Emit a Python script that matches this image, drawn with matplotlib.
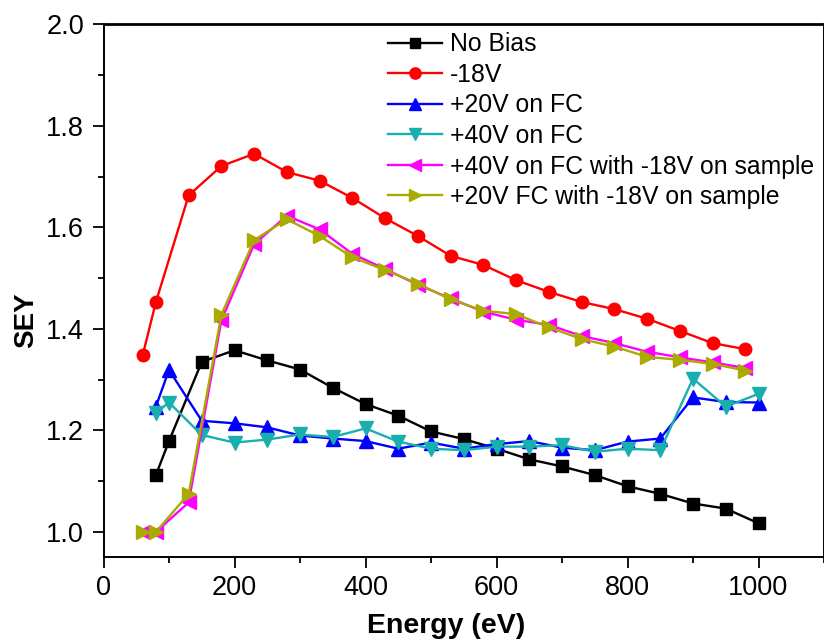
import matplotlib
matplotlib.use("Agg")
import matplotlib.pyplot as plt
from matplotlib.ticker import MultipleLocator

plt.rcParams['font.family'] = ['Liberation Sans', 'DejaVu Sans']

# secondary electron yield vs primary energy, different bias settings
e_nobias = [80, 100, 150, 200, 250, 300, 350, 400, 450, 500,
            550, 600, 650, 700, 750, 800, 850, 900, 950, 1000]
sey_nobias = [1.112, 1.179, 1.335, 1.358, 1.338, 1.320, 1.284, 1.252, 1.229, 1.198,
              1.183, 1.164, 1.143, 1.129, 1.112, 1.090, 1.075, 1.056, 1.046, 1.017]

e_m18 = [60, 80, 130, 180, 230, 280, 330, 380, 430, 480,
         530, 580, 630, 680, 730, 780, 830, 880, 930, 980]
sey_m18 = [1.349, 1.453, 1.663, 1.721, 1.745, 1.709, 1.692, 1.658, 1.618, 1.583,
           1.544, 1.526, 1.496, 1.473, 1.453, 1.439, 1.420, 1.396, 1.372, 1.360]

e_fc = e_nobias
sey_fc20 = [1.247, 1.319, 1.219, 1.214, 1.206, 1.190, 1.184, 1.179, 1.164, 1.176,
            1.164, 1.173, 1.179, 1.166, 1.161, 1.178, 1.184, 1.265, 1.256, 1.255]
sey_fc40 = [1.235, 1.255, 1.191, 1.176, 1.182, 1.192, 1.187, 1.204, 1.178, 1.164,
            1.161, 1.168, 1.168, 1.171, 1.158, 1.164, 1.161, 1.302, 1.247, 1.272]

e_both = e_m18
sey_fc40_m18 = [1.000, 1.000, 1.058, 1.417, 1.567, 1.623, 1.596, 1.548, 1.518, 1.487,
                1.460, 1.434, 1.418, 1.408, 1.386, 1.372, 1.355, 1.344, 1.334, 1.323]
sey_fc20_m18 = [1.000, 1.000, 1.075, 1.428, 1.575, 1.616, 1.583, 1.541, 1.516, 1.489,
                1.458, 1.436, 1.429, 1.403, 1.380, 1.365, 1.345, 1.339, 1.331, 1.318]

fig = plt.figure(figsize=(8.24, 6.41), dpi=100)
ax = fig.add_axes([103.5 / 824, 83.7 / 641, 720.5 / 824, 532.9 / 641])

lw = 1.7
ax.plot(e_nobias, sey_nobias, color='black', marker='s', ms=8, lw=lw, label='No Bias')
ax.plot(e_m18, sey_m18, color='red', marker='o', ms=9, lw=lw, label='-18V')
ax.plot(e_fc, sey_fc20, color='blue', marker='^', ms=10, lw=lw, label='+20V on FC')
ax.plot(e_fc, sey_fc40, color='#1aafaf', marker='v', ms=10, lw=lw, label='+40V on FC')
ax.plot(e_both, sey_fc40_m18, color='magenta', marker='<', ms=10, lw=lw,
        label='+40V on FC with -18V on sample')
ax.plot(e_both, sey_fc20_m18, color='#aaaa00', marker='>', ms=10, lw=lw,
        label='+20V FC with -18V on sample')

ax.set_xlim(0, 1100)
ax.set_ylim(0.95, 2.0)
ax.xaxis.set_major_locator(MultipleLocator(200))
ax.xaxis.set_minor_locator(MultipleLocator(100))
ax.yaxis.set_major_locator(MultipleLocator(0.2))
ax.yaxis.set_minor_locator(MultipleLocator(0.1))
ax.yaxis.set_major_formatter(matplotlib.ticker.FormatStrFormatter('%.1f'))

ax.tick_params(which='both', direction='out', top=False, right=False, width=1.3,
               labelsize=19.5)
ax.tick_params(which='major', length=8)
ax.tick_params(which='minor', length=4)
ax.tick_params(axis='x', pad=4.5)
ax.tick_params(axis='y', pad=6)

for side in ['left', 'bottom', 'right']:
    ax.spines[side].set_linewidth(1.4)
ax.spines['top'].set_linewidth(2.0)

ax.set_xlabel('Energy (eV)', fontsize=20.5, fontweight='bold')
ax.set_ylabel('SEY', fontsize=20, fontweight='bold')
ax.xaxis.set_label_coords(0.476, -0.104)
ax.yaxis.set_label_coords(-0.09, 0.445)

ax.legend(loc='upper left', bbox_to_anchor=(0.395, 0.985), frameon=False,
          fontsize=17.8, borderpad=0, borderaxespad=0, handlelength=2.2,
          handletextpad=0.3, labelspacing=0.265, markerscale=0.9)

fig.savefig('out.png', dpi=100)
